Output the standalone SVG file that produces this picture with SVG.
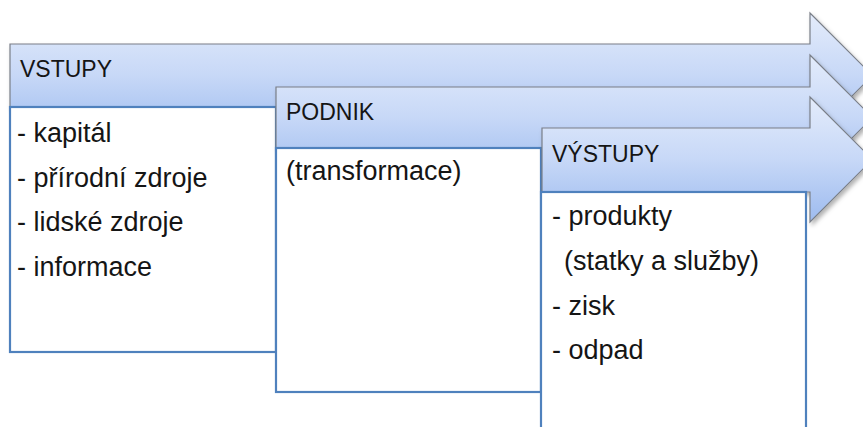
<svg xmlns="http://www.w3.org/2000/svg" width="863" height="427" viewBox="0 0 863 427">
  <style>
    .arrow { fill: url(#arrowGrad); stroke: #7a7f88; stroke-width: 1.2; filter: url(#shadow); }
    .box { fill: #ffffff; stroke: #4f81bd; stroke-width: 2.2; }
    .head { font-family: "Liberation Sans", Arial, sans-serif; font-size: 23px; fill: #151515; }
    .item { font-family: "Liberation Sans", Arial, sans-serif; font-size: 27px; fill: #151515; }
  </style>
  <defs>
    <linearGradient id="arrowGrad" x1="0" y1="0" x2="0" y2="1">
      <stop offset="0" stop-color="#e4ecfb"/>
      <stop offset="0.5" stop-color="#c7d8f7"/>
      <stop offset="1" stop-color="#9dbbef"/>
    </linearGradient>
    <filter id="shadow" x="-5%" y="-10%" width="115%" height="130%">
      <feDropShadow dx="2" dy="3" stdDeviation="2" flood-color="#000000" flood-opacity="0.3"/>
    </filter>
  </defs>
  <rect width="863" height="427" fill="#ffffff"/>

  <g id="vstupy">
    <path class="arrow" d="M10,44 H810 V13 L872.5,75.5 L810,138 V107 H10 Z"/>
    <rect class="box" x="10" y="107" width="266" height="245"/>
    <text class="head" x="20" y="77">VSTUPY</text>
    <text class="item" x="17" y="142">- kapitál</text>
    <text class="item" x="17" y="187">- přírodní zdroje</text>
    <text class="item" x="17" y="231">- lidské zdroje</text>
    <text class="item" x="17" y="276">- informace</text>
  </g>

  <g id="podnik">
    <path class="arrow" d="M276,87 H810 V55 L872.5,117.5 L810,180 V148 H276 Z"/>
    <rect class="box" x="276" y="148" width="265" height="244"/>
    <text class="head" x="286" y="120">PODNIK</text>
    <text class="item" x="286" y="180">(transformace)</text>
  </g>

  <g id="vystupy">
    <path class="arrow" d="M542,128 H810 V97 L872.5,159.5 L810,222 V192 H542 Z"/>
    <rect class="box" x="541" y="192" width="265" height="250"/>
    <text class="head" x="552" y="162">VÝSTUPY</text>
    <text class="item" x="552" y="225">- produkty</text>
    <text class="item" x="564" y="270">(statky a služby)</text>
    <text class="item" x="552" y="315">- zisk</text>
    <text class="item" x="552" y="359">- odpad</text>
  </g>

  <g id="connectors"/>
</svg>
